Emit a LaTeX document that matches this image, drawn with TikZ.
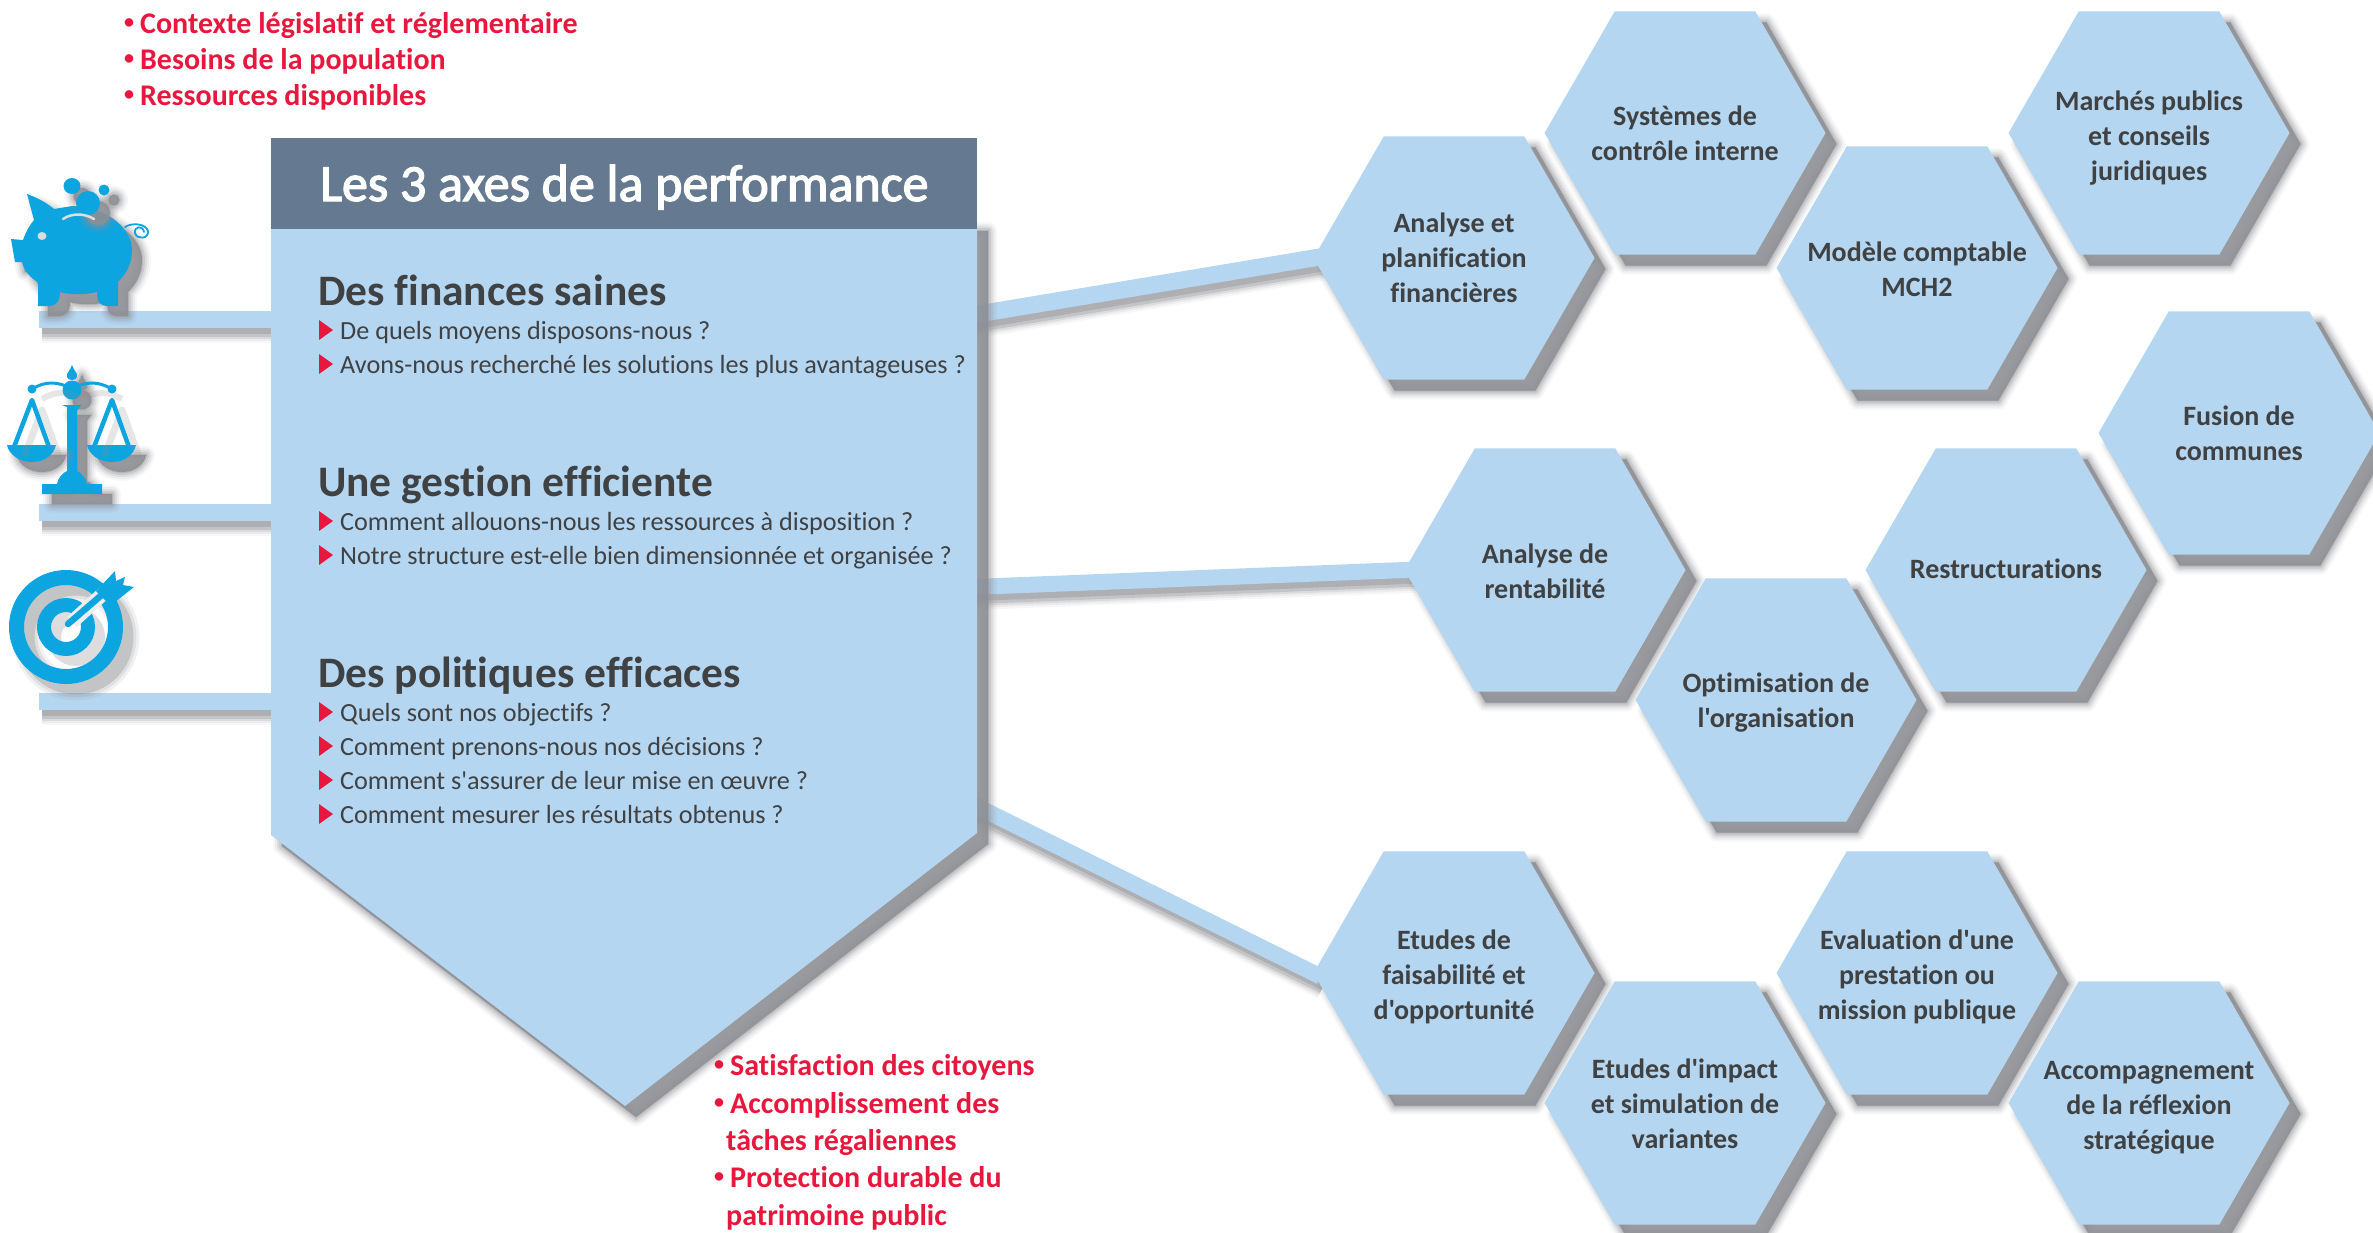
\documentclass[tikz,border=0pt]{standalone}
\usepackage{fontspec}
\setmainfont[Ligatures={TeXOff,NoCommon}]{Carlito}
\newfontfamily\titlefont[Ligatures={TeXOff,NoCommon},FakeBold=2.5]{Carlito}
\usetikzlibrary{shapes.geometric}
\definecolor{lblue}{HTML}{B5D6F0}
\definecolor{headc}{HTML}{657A90}
\definecolor{redc}{HTML}{E8173E}
\definecolor{darkc}{HTML}{404142}
\definecolor{iconc}{HTML}{0CA5E0}
\definecolor{shc}{HTML}{8E8F94}
\pgfdeclarelayer{back}
\pgfsetlayers{back,main}
\tikzset{
  softshadow/.style={
    preaction={draw=shc,line width=18pt,line join=round,opacity=.07,transform canvas={shift={(#1pt,-#1pt)}}},
    preaction={draw=shc,line width=14pt,line join=round,opacity=.11,transform canvas={shift={(#1pt,-#1pt)}}},
    preaction={draw=shc,line width=10pt,line join=round,opacity=.16,transform canvas={shift={(#1pt,-#1pt)}}},
    preaction={draw=shc,line width=6pt,line join=round,opacity=.24,transform canvas={shift={(#1pt,-#1pt)}}},
    preaction={draw=shc,line width=2pt,line join=round,opacity=.35,transform canvas={shift={(#1pt,-#1pt)}}},
    preaction={fill=shc,opacity=.9,transform canvas={shift={(#1pt,-#1pt)}}}},
  hexa/.style={regular polygon,regular polygon sides=6,minimum size=281pt,inner sep=0pt,outer sep=0pt,
    fill=lblue,softshadow=11},
  hexlabel/.style={inner sep=0pt,text=darkc,align=center,font=\fontsize{28}{35}\selectfont\bfseries},
  bandline/.style={draw=lblue,line width=#1pt,
    preaction={draw=shc,line width=#1pt+12pt,opacity=.07,transform canvas={shift={(3pt,-9pt)}}},
    preaction={draw=shc,line width=#1pt+8pt,opacity=.11,transform canvas={shift={(3pt,-9pt)}}},
    preaction={draw=shc,line width=#1pt+4pt,opacity=.18,transform canvas={shift={(3pt,-9pt)}}},
    preaction={draw=shc,line width=#1pt,opacity=.3,transform canvas={shift={(3pt,-9pt)}}},
    preaction={draw=shc,line width=#1pt-6pt,opacity=.4,transform canvas={shift={(3pt,-9pt)}}}},
  redtext/.style={anchor=base west,inner sep=0pt,text=redc,font=\fontsize{30}{36}\selectfont\bfseries},
  axis/.style={anchor=base west,inner sep=0pt,text=darkc,font=\fontsize{43.5}{44}\selectfont\bfseries},
  ques/.style={anchor=base west,inner sep=0pt,text=darkc,font=\fontsize{26.2}{30}\selectfont},
  mark tri/.style={fill=redc},
  icon/.style={fill=iconc,softshadow=10},
  iconline/.style={draw=iconc,line cap=round},
}
\newcommand{\qline}[3]{%
  \fill[mark tri] (319,#1-10) -- (333,#1) -- (319,#1+10) -- cycle;
  \node[ques] (#2) at (340,#1+9) {#3};}
\newcommand{\rb}{\raisebox{0.16em}{\fontsize{20}{20}\selectfont •}\hspace{6pt}}
\newcommand{\hexn}[5]{%
  \node[hexa] (#1) at (#2,#3) {};
  \node[hexlabel,yshift=-#5pt] (#1t) at (#1.center) {#4};}
\begin{document}
\begin{tikzpicture}[x=1pt,y=-1pt]
\useasboundingbox (0,0) rectangle (2373,1232);

% left bars and their ends
\coordinate (barA) at (39,319.5);
\coordinate (barB) at (39,512);
\coordinate (barC) at (39,701);
\coordinate (boxA) at (285,319.5);
\coordinate (boxB) at (285,512);
\coordinate (boxC) at (285,701);
\coordinate (outA) at (960,317);
\coordinate (outB) at (960,587.5);
\coordinate (outC) at (960,798);

% main box body
\path[fill=lblue,softshadow=11] (271,220) -- (977,220) -- (977,833) -- (625,1106) -- (271,835) -- cycle;
\node[fill=headc,minimum width=706pt,minimum height=91pt,inner sep=0pt,outer sep=0pt] (head) at (624,183.5) {};
\node[anchor=base west,inner sep=0pt,text=white,font=\fontsize{52}{52}\selectfont\titlefont] (title) at (320,201) {Les 3 axes de la performance};

% right part: hexagons, left to right
\hexn{h1}{1454}{258}{Analyse et\\planification\\financières}{0}
\hexn{h5}{1545}{570}{Analyse de\\rentabilité}{1}
\hexn{h9}{1454}{973}{Etudes de\\faisabilité et\\d'opportunité}{4}
\hexn{h2}{1685}{133}{Systèmes de\\contrôle interne}{0}
\hexn{h7}{1776}{700}{Optimisation de\\l'organisation}{3}
\hexn{h10}{1685}{1103}{Etudes d'impact\\et simulation de\\variantes}{1}
\hexn{h3}{1917}{268}{Modèle comptable\\MCH2}{1}
\hexn{h11}{1917}{973}{Evaluation d'une\\prestation ou\\mission publique}{4}
\hexn{h6}{2006}{570}{Restructurations}{-1}
\hexn{h4}{2149}{133}{Marchés publics\\et conseils\\juridiques}{5}
\hexn{h12}{2149}{1103}{Accompagnement\\de la réflexion\\stratégique}{5}
\hexn{h8}{2239}{433}{Fusion de\\communes}{0}

\begin{pgfonlayer}{back}
  \draw[bandline=17] (barA) -- (boxA);
  \draw[bandline=17] (barB) -- (boxB);
  \draw[bandline=17] (barC) -- (boxC);
  \draw[bandline=17,shorten >=-8pt] (outA) -- (h1.corner 3);
  \draw[bandline=16,shorten >=-8pt] (outB) -- (h5.corner 3);
  \draw[bandline=16,shorten >=-8pt] (outC) -- (h9.corner 3);
\end{pgfonlayer}

% piggy bank
\path[icon] (11,239) -- (23,240) .. controls (27,229) and (30,225) .. (34,220) -- (27,194)
  .. controls (38,198) and (47,203) .. (54,209) -- (72,206)
  .. controls (100,205) and (132,225) .. (132,250)
  .. controls (132,265) and (125,275) .. (118,282) -- (118,306) -- (107,306)
  .. controls (101,306) and (97,303) .. (97,292)
  .. controls (85,295) and (70,295) .. (60,292)
  .. controls (60,303) and (55,306) .. (48,306) -- (38,306) -- (38,282)
  .. controls (30,278) and (24,270) .. (22,262) -- (15,262) -- cycle;
\path[icon] (72,186) ellipse (8.5 and 8);
\path[icon] (88,203) circle (12);
\path[icon] (104,190) circle (5.5);
\draw[line width=2.5pt,color=white!70!shc,line cap=round] (63,219) .. controls (72,213) and (84,213) .. (94,219);
\fill[color=white!70!shc] (42,236) ellipse (4.5 and 4);
\draw[iconline,line width=1.8pt] (125,227) .. controls (133,222) and (146,224) .. (148,231)
  .. controls (149,239) and (137,240) .. (135,233) .. controls (134,226) and (143,225) .. (144,232);

% scales
\path[icon] (72,365) .. controls (74,371) and (78,373) .. (77,377) .. controls (76,381) and (68,381) .. (67,377)
  .. controls (66,373) and (70,371) .. (72,365) -- cycle;
\path[icon] (72,390) circle (9.5);
\path[icon] (67,407) -- (62,405) -- (81,405) -- (77,411) -- (77,471)
  .. controls (82,473) and (86,478) .. (87,484) -- (102,484) -- (102,494) -- (42,494) -- (42,484) -- (57,484)
  .. controls (58,478) and (62,473) .. (67,471) -- cycle;
\path[icon] (7,445) -- (56,445) .. controls (54,455) and (44,462) .. (32,462) .. controls (20,462) and (9,455) .. (7,445) -- cycle;
\path[icon] (87,445) -- (136,445) .. controls (134,455) and (124,462) .. (112,462) .. controls (100,462) and (89,455) .. (87,445) -- cycle;
\draw[shc,opacity=.22,line width=7pt,line join=round,transform canvas={shift={(10pt,-10pt)}}] (14,447) -- (32,400) -- (49,447);
\draw[shc,opacity=.22,line width=7pt,line join=round,transform canvas={shift={(10pt,-10pt)}}] (94,447) -- (112,400) -- (129,447);
\draw[shc,opacity=.22,line width=6pt,transform canvas={shift={(10pt,-10pt)}}] (32,389) .. controls (45,381) and (58,381) .. (72,389) .. controls (86,381) and (98,381) .. (112,389);
\draw[iconc,line width=4.5pt,line join=round] (14,447) -- (32,400) -- (49,447);
\draw[iconc,line width=4.5pt,line join=round] (94,447) -- (112,400) -- (129,447);
\draw[iconc,line width=3pt] (32,389) .. controls (45,381) and (58,381) .. (72,389) .. controls (86,381) and (98,381) .. (112,389);
\fill[iconc] (32,389) circle (4.5);
\fill[iconc] (112,389) circle (4.5);

% target
\draw[shc,line width=28pt,opacity=.12,transform canvas={shift={(10pt,-10pt)}}] (66,627) circle (49.5);
\draw[shc,line width=22pt,opacity=.18,transform canvas={shift={(10pt,-10pt)}}] (66,627) circle (49.5);
\draw[shc,line width=16pt,opacity=.35,transform canvas={shift={(10pt,-10pt)}}] (66,627) circle (49.5);
\draw[shc,line width=14pt,opacity=.3,transform canvas={shift={(10pt,-10pt)}}] (66,627) circle (22);
\draw[iconc,line width=15pt] (66,627) circle (49.5);
\draw[iconc,line width=14pt] (66,627) circle (22);
\draw[white!85!shc,line width=14pt] (72,622) -- (105,592);
\draw[iconc,line width=6.5pt,line cap=round] (68,624) -- (104,593);
\fill[iconc] (96,591) -- (115,571) -- (116,581) -- (125,577) -- (123,585) -- (134,587) -- (115,602) -- (106,601) -- cycle;

% top red list
\node[redtext] (r1) at (124,33) {\rb Contexte législatif et réglementaire};
\node[redtext] (r2) at (124,69) {\rb Besoins de la population};
\node[redtext] (r3) at (124,105) {\rb Ressources disponibles};

% axes
\node[axis] (a1) at (318,305) {Des finances saines};
\qline{330}{q11}{De quels moyens disposons-nous ?}
\qline{364}{q12}{Avons-nous recherché les solutions les plus avantageuses ?}
\node[axis] (a2) at (318,496) {Une gestion efficiente};
\qline{521}{q21}{Comment allouons-nous les ressources à disposition ?}
\qline{555}{q22}{Notre structure est-elle bien dimensionnée et organisée ?}
\node[axis] (a3) at (318,687) {Des politiques efficaces};
\qline{712}{q31}{Quels sont nos objectifs ?}
\qline{746}{q32}{Comment prenons-nous nos décisions ?}
\qline{780}{q33}{Comment s'assurer de leur mise en œuvre ?}
\qline{814}{q34}{Comment mesurer les résultats obtenus ?}

% bottom red list
\node[redtext] (b1) at (714,1075) {\rb Satisfaction des citoyens};
\node[redtext] (b2) at (714,1113) {\rb Accomplissement des};
\node[redtext] (b3) at (726,1150) {tâches régaliennes};
\node[redtext] (b4) at (714,1187) {\rb Protection durable du};
\node[redtext] (b5) at (726,1225) {patrimoine public};
\end{tikzpicture}
\end{document}
